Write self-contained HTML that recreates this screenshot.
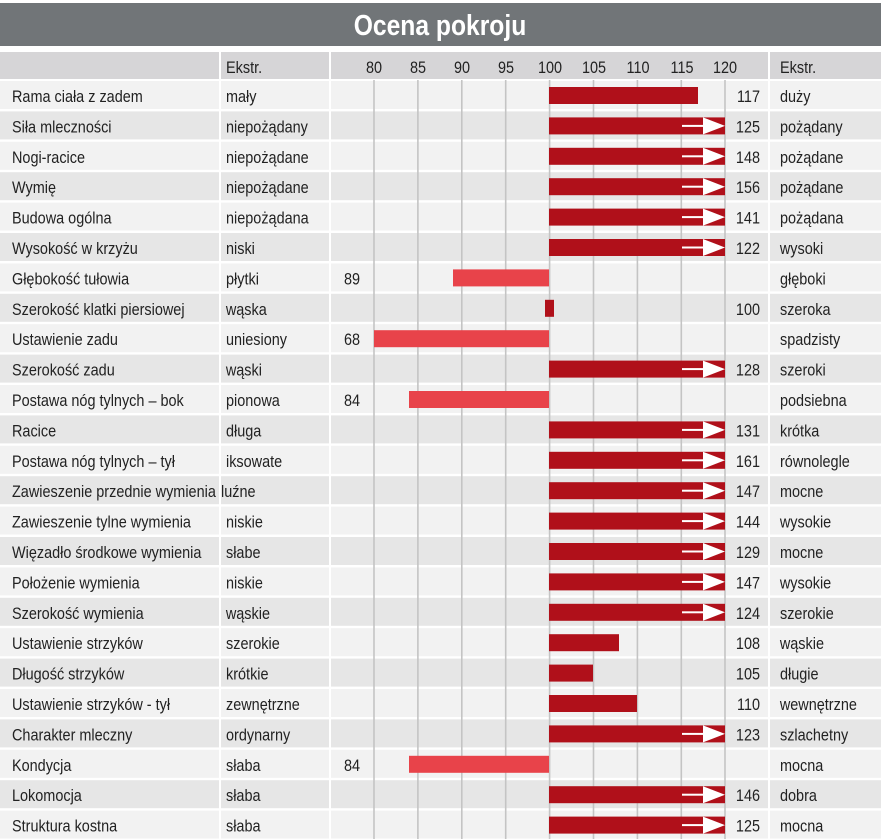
<!DOCTYPE html>
<html><head><meta charset="utf-8"><style>
html,body{margin:0;padding:0;background:#fff;}
svg{display:block;}
text{font-family:"Liberation Sans Narrow","Liberation Sans",sans-serif;font-size:17px;fill:#222;transform-box:fill-box;transform-origin:0 0;transform:scaleX(.85);}
.t{font-weight:bold;fill:#fff;font-size:29px;transform-origin:50% 0;}
.m{text-anchor:middle;transform-origin:50% 0;}
.v{text-anchor:end;transform-origin:100% 0;}
</style></head><body>
<svg width="881" height="839" viewBox="0 0 881 839" xmlns="http://www.w3.org/2000/svg">
<defs>
<g id="arr"><rect x="549" y="6" width="176" height="17" fill="#b0101a"/><rect x="682" y="13.5" width="22" height="2" fill="#fff"/><polygon points="703,6 725,14.5 703,23" fill="#fff"/></g>
<rect id="L" x="0" y="0" width="881" height="28" fill="#f2f2f2"/>
<rect id="D" x="0" y="0" width="881" height="28" fill="#e6e6e6"/>
</defs>
<rect x="0" y="3" width="881" height="43" fill="#717578"/>
<text class="t" x="440" y="35" text-anchor="middle">Ocena pokroju</text>
<rect x="0" y="52" width="881" height="27" fill="#d6d5d7"/>
<text x="226" y="73">Ekstr.</text>
<text class="m" x="374" y="73">80</text><text class="m" x="418" y="73">85</text><text class="m" x="462" y="73">90</text><text class="m" x="506" y="73">95</text><text class="m" x="550" y="73">100</text><text class="m" x="594" y="73">105</text><text class="m" x="638" y="73">110</text><text class="m" x="682" y="73">115</text><text class="m" x="725" y="73">120</text>
<text x="780" y="73">Ekstr.</text>
<g>
<use href="#L" y="81"/><use href="#D" y="111.4"/><use href="#L" y="141.8"/><use href="#D" y="172.2"/><use href="#L" y="202.6"/><use href="#D" y="233"/><use href="#L" y="263.4"/><use href="#D" y="293.8"/><use href="#L" y="324.2"/><use href="#D" y="354.6"/><use href="#L" y="385"/><use href="#D" y="415.4"/><use href="#L" y="445.8"/><use href="#D" y="476.2"/><use href="#L" y="506.6"/><use href="#D" y="537"/><use href="#L" y="567.4"/><use href="#D" y="597.8"/><use href="#L" y="628.2"/><use href="#D" y="658.6"/><use href="#L" y="689"/><use href="#D" y="719.4"/><use href="#L" y="749.8"/><use href="#D" y="780.2"/><use href="#L" y="810.6"/>
</g>
<g stroke="#fff" stroke-width="2"><line x1="220" y1="46" x2="220" y2="839"/><line x1="330" y1="46" x2="330" y2="839"/><line x1="769" y1="46" x2="769" y2="839"/></g>
<g stroke="#c4c4c4" stroke-width="1.6"><line x1="374" y1="80" x2="374" y2="839"/><line x1="417.9" y1="80" x2="417.9" y2="839"/><line x1="461.8" y1="80" x2="461.8" y2="839"/><line x1="505.7" y1="80" x2="505.7" y2="839"/><line x1="549.6" y1="80" x2="549.6" y2="839"/><line x1="593.5" y1="80" x2="593.5" y2="839"/><line x1="637.4" y1="80" x2="637.4" y2="839"/><line x1="681.3" y1="80" x2="681.3" y2="839"/><line x1="725" y1="80" x2="725" y2="839"/></g>

<g transform="translate(0,81)"><text x="12" y="21">Rama ciała z zadem</text><text x="226" y="21">mały</text><rect x="549" y="6" width="149" height="17" fill="#b0101a"/><text class="v" x="760" y="21">117</text><text x="780" y="21">duży</text></g>
<g transform="translate(0,111.4)"><text x="12" y="21">Siła mleczności</text><text x="226" y="21">niepożądany</text><use href="#arr"/><text class="v" x="760" y="21">125</text><text x="780" y="21">pożądany</text></g>
<g transform="translate(0,141.8)"><text x="12" y="21">Nogi-racice</text><text x="226" y="21">niepożądane</text><use href="#arr"/><text class="v" x="760" y="21">148</text><text x="780" y="21">pożądane</text></g>
<g transform="translate(0,172.2)"><text x="12" y="21">Wymię</text><text x="226" y="21">niepożądane</text><use href="#arr"/><text class="v" x="760" y="21">156</text><text x="780" y="21">pożądane</text></g>
<g transform="translate(0,202.6)"><text x="12" y="21">Budowa ogólna</text><text x="226" y="21">niepożądana</text><use href="#arr"/><text class="v" x="760" y="21">141</text><text x="780" y="21">pożądana</text></g>
<g transform="translate(0,233)"><text x="12" y="21">Wysokość w krzyżu</text><text x="226" y="21">niski</text><use href="#arr"/><text class="v" x="760" y="21">122</text><text x="780" y="21">wysoki</text></g>
<g transform="translate(0,263.4)"><text x="12" y="21">Głębokość tułowia</text><text x="226" y="21">płytki</text><rect x="453" y="6" width="96" height="17" fill="#e8434a"/><text class="v" x="360" y="21">89</text><text x="780" y="21">głęboki</text></g>
<g transform="translate(0,293.8)"><text x="12" y="21">Szerokość klatki piersiowej</text><text x="226" y="21">wąska</text><rect x="545" y="6" width="9" height="17" fill="#b0101a"/><text class="v" x="760" y="21">100</text><text x="780" y="21">szeroka</text></g>
<g transform="translate(0,324.2)"><text x="12" y="21">Ustawienie zadu</text><text x="226" y="21">uniesiony</text><rect x="374" y="6" width="175" height="17" fill="#e8434a"/><text class="v" x="360" y="21">68</text><text x="780" y="21">spadzisty</text></g>
<g transform="translate(0,354.6)"><text x="12" y="21">Szerokość zadu</text><text x="226" y="21">wąski</text><use href="#arr"/><text class="v" x="760" y="21">128</text><text x="780" y="21">szeroki</text></g>
<g transform="translate(0,385)"><text x="12" y="21">Postawa nóg tylnych –  bok</text><text x="226" y="21">pionowa</text><rect x="409" y="6" width="140" height="17" fill="#e8434a"/><text class="v" x="360" y="21">84</text><text x="780" y="21">podsiebna</text></g>
<g transform="translate(0,415.4)"><text x="12" y="21">Racice</text><text x="226" y="21">długa</text><use href="#arr"/><text class="v" x="760" y="21">131</text><text x="780" y="21">krótka</text></g>
<g transform="translate(0,445.8)"><text x="12" y="21">Postawa nóg tylnych –  tył</text><text x="226" y="21">iksowate</text><use href="#arr"/><text class="v" x="760" y="21">161</text><text x="780" y="21">równolegle</text></g>
<g transform="translate(0,476.2)"><text x="12" y="21">Zawieszenie przednie wymienia</text><text x="221" y="21">luźne</text><use href="#arr"/><text class="v" x="760" y="21">147</text><text x="780" y="21">mocne</text></g>
<g transform="translate(0,506.6)"><text x="12" y="21">Zawieszenie tylne wymienia</text><text x="226" y="21">niskie</text><use href="#arr"/><text class="v" x="760" y="21">144</text><text x="780" y="21">wysokie</text></g>
<g transform="translate(0,537)"><text x="12" y="21">Więzadło środkowe wymienia</text><text x="226" y="21">słabe</text><use href="#arr"/><text class="v" x="760" y="21">129</text><text x="780" y="21">mocne</text></g>
<g transform="translate(0,567.4)"><text x="12" y="21">Położenie wymienia</text><text x="226" y="21">niskie</text><use href="#arr"/><text class="v" x="760" y="21">147</text><text x="780" y="21">wysokie</text></g>
<g transform="translate(0,597.8)"><text x="12" y="21">Szerokość wymienia</text><text x="226" y="21">wąskie</text><use href="#arr"/><text class="v" x="760" y="21">124</text><text x="780" y="21">szerokie</text></g>
<g transform="translate(0,628.2)"><text x="12" y="21">Ustawienie strzyków</text><text x="226" y="21">szerokie</text><rect x="549" y="6" width="70" height="17" fill="#b0101a"/><text class="v" x="760" y="21">108</text><text x="780" y="21">wąskie</text></g>
<g transform="translate(0,658.6)"><text x="12" y="21">Długość strzyków</text><text x="226" y="21">krótkie</text><rect x="549" y="6" width="44" height="17" fill="#b0101a"/><text class="v" x="760" y="21">105</text><text x="780" y="21">długie</text></g>
<g transform="translate(0,689)"><text x="12" y="21">Ustawienie strzyków - tył</text><text x="226" y="21">zewnętrzne</text><rect x="549" y="6" width="88" height="17" fill="#b0101a"/><text class="v" x="760" y="21">110</text><text x="780" y="21">wewnętrzne</text></g>
<g transform="translate(0,719.4)"><text x="12" y="21">Charakter mleczny</text><text x="226" y="21">ordynarny</text><use href="#arr"/><text class="v" x="760" y="21">123</text><text x="780" y="21">szlachetny</text></g>
<g transform="translate(0,749.8)"><text x="12" y="21">Kondycja</text><text x="226" y="21">słaba</text><rect x="409" y="6" width="140" height="17" fill="#e8434a"/><text class="v" x="360" y="21">84</text><text x="780" y="21">mocna</text></g>
<g transform="translate(0,780.2)"><text x="12" y="21">Lokomocja</text><text x="226" y="21">słaba</text><use href="#arr"/><text class="v" x="760" y="21">146</text><text x="780" y="21">dobra</text></g>
<g transform="translate(0,810.6)"><text x="12" y="21">Struktura kostna</text><text x="226" y="21">słaba</text><use href="#arr"/><text class="v" x="760" y="21">125</text><text x="780" y="21">mocna</text></g>
</svg>
</body></html>
